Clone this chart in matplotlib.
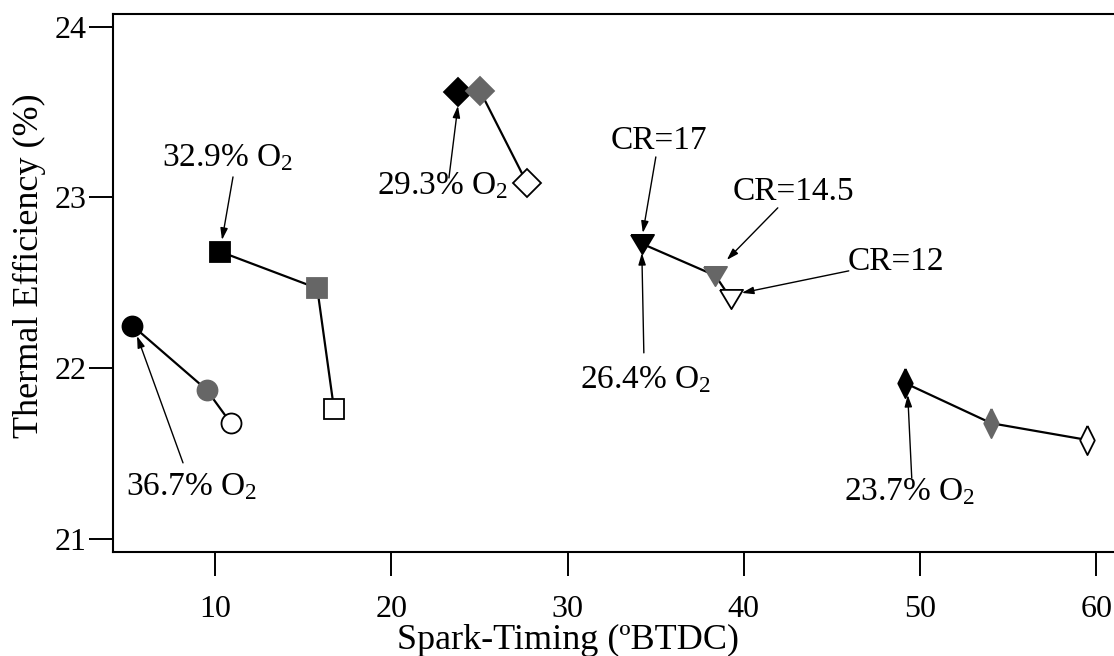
import matplotlib
matplotlib.use("Agg")
import matplotlib.pyplot as plt

plt.rcParams["font.family"] = ["Liberation Serif", "DejaVu Serif"]
plt.rcParams["mathtext.fontset"] = "custom"
plt.rcParams["mathtext.rm"] = "Liberation Serif"
plt.rcParams["mathtext.it"] = "Liberation Serif:italic"
plt.rcParams["mathtext.bf"] = "Liberation Serif:bold"

# Compression ratios, in the order of the points in every group
compression_ratios = ["CR=17", "CR=14.5", "CR=12"]
cr_face_colors = ["black", "#666666", "white"]
cr_edge_colors = ["black", "#666666", "black"]

# Spark timing (deg BTDC) and thermal efficiency (%) per oxygen level
o2_labels = ["36.7% O$_2$", "32.9% O$_2$", "29.3% O$_2$", "26.4% O$_2$", "23.7% O$_2$"]
timing_367 = [5.31, 9.53, 10.89]
eff_367 = [22.25, 21.873, 21.68]
timing_329 = [10.28, 15.80, 16.75]
eff_329 = [22.683, 22.468, 21.762]
timing_293 = [23.80, 25.03, 27.68]
eff_293 = [23.62, 23.625, 23.087]
timing_264 = [34.20, 38.39, 39.26]
eff_264 = [22.73, 22.542, 22.408]
timing_237 = [49.17, 54.04, 59.49]
eff_237 = [21.912, 21.678, 21.58]

x_ticks = [10, 20, 30, 40, 50, 60]
y_ticks = [21, 22, 23, 24]

# marker shapes: wide down-triangle and slim diamond
wide_triangle = [(-0.6, 0.5), (0.6, 0.5), (0.0, -0.5), (-0.6, 0.5)]
slim_diamond = [(0.0, 1.0), (0.5, 0.0), (0.0, -1.0), (-0.5, 0.0), (0.0, 1.0)]

groups = [
    (timing_367, eff_367, "o", 14.4),
    (timing_329, eff_329, "s", 14.8),
    (timing_293, eff_293, "D", 14.0),
    (timing_264, eff_264, wide_triangle, 16.6),
    (timing_237, eff_237, slim_diamond, 21.0),
]

fig = plt.figure(figsize=(11.14, 6.56), dpi=100)
ax = fig.add_axes([0.1017, 0.1585, 0.8983, 0.8202])

for xs, ys, marker, ms in groups:
    ax.plot(xs, ys, color="black", lw=1.6, zorder=2)
    for x, y, fc, ec in zip(xs, ys, cr_face_colors, cr_edge_colors):
        ax.plot([x], [y], linestyle="none", marker=marker, markersize=ms,
                markerfacecolor=fc, markeredgecolor=ec, markeredgewidth=1.3,
                zorder=3)

# label text (center x, baseline y) and arrow (tail -> head)
text_items = [
    (o2_labels[0], (8.649, 21.258), (8.185, 21.446), (5.577, 22.189)),
    (o2_labels[1], (10.737, 23.184), (11.021, 23.120), (10.397, 22.751)),
    (o2_labels[2], (22.930, 23.020), (23.270, 23.114), (23.780, 23.536)),
    (o2_labels[3], (34.44, 21.885), (34.328, 22.090), (34.215, 22.675)),
    (o2_labels[4], (49.41, 21.229), (49.526, 21.358), (49.299, 21.844)),
    (compression_ratios[0], (35.179, 23.284), (35.008, 23.237), (34.271, 22.792)),
    (compression_ratios[1], (42.83, 22.985), (41.927, 22.939), (39.035, 22.634)),
    (compression_ratios[2], (48.62, 22.575), (45.953, 22.570), (39.885, 22.441)),
]
for label, txt_pos, tail, head in text_items:
    ax.text(txt_pos[0], txt_pos[1], label, ha="center", va="baseline",
            fontsize=24, zorder=4)
    ax.annotate("", xy=head, xytext=tail,
                arrowprops=dict(arrowstyle="-|>,head_length=0.7,head_width=0.22",
                                mutation_scale=10, lw=1.0, color="black",
                                shrinkA=0, shrinkB=0),
                zorder=4)

ax.set_xlim(4.23, 61.0)
ax.set_ylim(20.924, 24.074)
ax.set_xticks(x_ticks)
ax.set_yticks(y_ticks)
ax.tick_params(axis="both", direction="out", length=17, width=1.4,
               labelsize=23)
ax.tick_params(axis="x", pad=14)
ax.tick_params(axis="y", pad=2)
for side in ["left", "bottom", "top"]:
    ax.spines[side].set_linewidth(1.5)
ax.spines["right"].set_visible(False)

ax.set_xlabel("Spark-Timing (ºBTDC)", fontsize=26, va="center")
ax.xaxis.set_label_coords(0.454, -0.164)
ax.set_ylabel("Thermal Efficiency (%)", fontsize=26, va="center")
ax.yaxis.set_label_coords(-0.084, 0.533)

fig.savefig("out.png", dpi=100)
